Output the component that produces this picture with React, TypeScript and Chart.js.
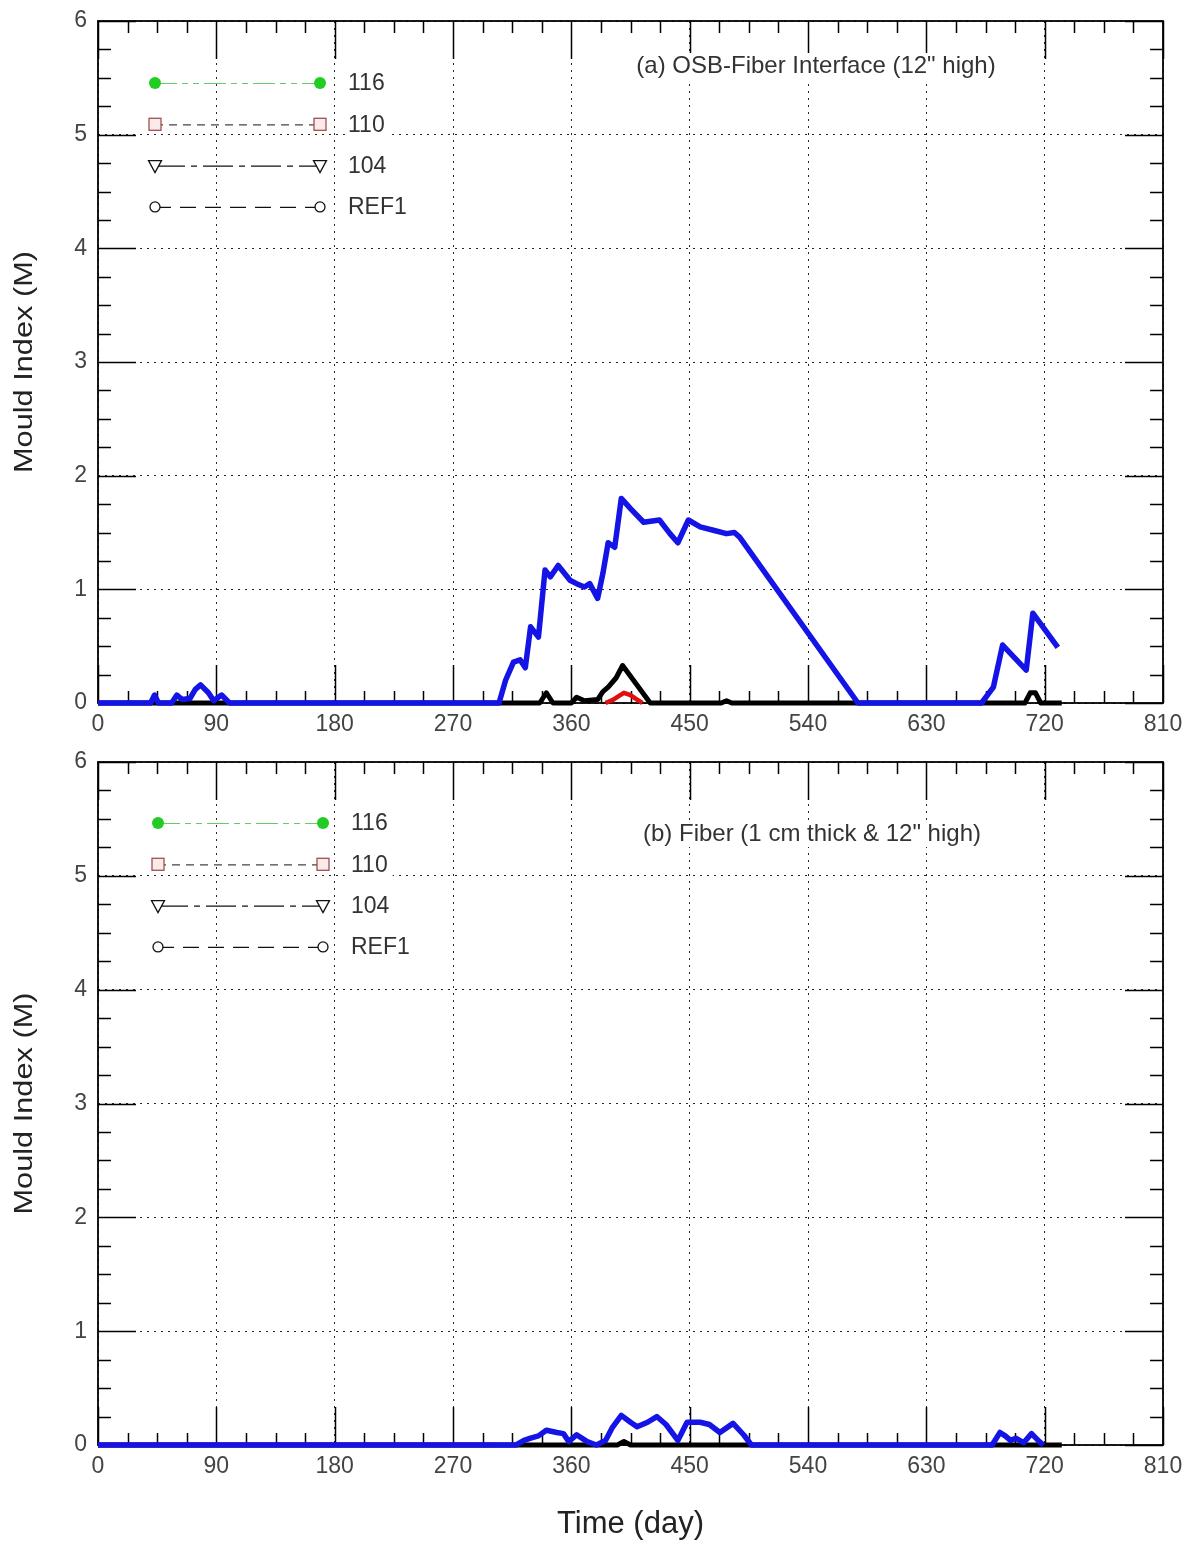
import React, { useEffect, useRef } from "react";
import { Chart, registerables } from "chart.js";

Chart.register(...registerables);

// ---- axis definitions ----
const X_MIN = 0;
const X_MAX = 810;
const X_STEP = 90;
const X_MINOR = 22.5;
const Y_MIN = 0;
const Y_MAX = 6;
const Y_STEP = 1;
const Y_MINOR = 0.25;
const Y_TITLE = "Mould Index (M)";
const X_TITLE = "Time (day)";

// ---- legend ----
const legendLabels = ["116", "110", "104", "REF1"];
const legendLineColors = ["#66cc66", "#444444", "#111111", "#111111"];
const legendMarkerColors = ["#22cc22", "#a05050", "#111111", "#111111"];
const legendMarkers = ["filledCircle", "square", "triangleDown", "circle"];
const legendDashes = [[22, 5, 6, 5, 6, 5], [8, 6], [30, 6, 6, 6], [16, 9]];

// ---- panel (a): OSB-Fiber interface ----
const a116Days = [0, 300];
const a116Values = [0, 0];
const a110Days = [386, 392, 396, 400, 405, 410, 414];
const a110Values = [0, 0.03, 0.06, 0.09, 0.07, 0.03, 0];
const a104Days = [0, 336, 341, 346, 360, 364, 370, 380, 384, 388, 394, 399, 420, 474, 478, 482, 705, 709, 713, 717, 733];
const a104Values = [0, 0, 0.09, 0, 0, 0.05, 0.02, 0.03, 0.1, 0.14, 0.22, 0.33, 0, 0, 0.02, 0, 0, 0.09, 0.09, 0, 0];
const aREF1Days = [0, 40, 43, 46, 56, 60, 64, 70, 74, 78, 84, 88, 94, 100, 305, 310, 316, 321, 325, 329, 335, 340, 344, 350, 359, 364, 370, 374, 380, 384, 388, 393, 398, 405, 415, 427, 435, 441, 449, 458, 468, 478, 484, 488, 578, 672, 681, 688, 706, 711, 730];
const aREF1Values = [0, 0, 0.07, 0, 0, 0.07, 0.03, 0.04, 0.12, 0.16, 0.09, 0.02, 0.07, 0, 0, 0.2, 0.36, 0.38, 0.31, 0.67, 0.58, 1.17, 1.11, 1.21, 1.08, 1.05, 1.02, 1.05, 0.92, 1.14, 1.41, 1.37, 1.8, 1.71, 1.59, 1.61, 1.49, 1.41, 1.61, 1.55, 1.52, 1.49, 1.5, 1.46, 0, 0, 0.14, 0.51, 0.29, 0.79, 0.49];

// ---- panel (b): Fiber ----
const b116Days = [0, 300];
const b116Values = [0, 0];
const b110Days = [0, 300];
const b110Values = [0, 0];
const b104Days = [0, 395, 400, 405, 733];
const b104Values = [0, 0, 0.03, 0, 0];
const bREF1Days = [0, 318, 324, 329, 335, 341, 349, 354, 358, 364, 372, 379, 386, 391, 398, 405, 410, 418, 425, 432, 441, 448, 458, 465, 473, 483, 491, 497, 680, 686, 690, 694, 698, 704, 710, 716, 719];
const bREF1Values = [0, 0, 0.04, 0.06, 0.08, 0.13, 0.11, 0.1, 0.03, 0.09, 0.03, 0, 0.04, 0.15, 0.26, 0.2, 0.16, 0.2, 0.25, 0.18, 0.04, 0.2, 0.2, 0.18, 0.11, 0.19, 0.09, 0, 0, 0.11, 0.08, 0.04, 0.06, 0.02, 0.1, 0.03, 0];

const FONT = "'Liberation Sans', Arial, sans-serif";

function pts(days: number[], values: number[]) {
  return days.map((d, i) => ({ x: d, y: values[i] }));
}

function makeDatasets(d116: number[], v116: number[], d110: number[], v110: number[], d104: number[], v104: number[], dR: number[], vR: number[]) {
  const base = { pointRadius: 0, fill: false, tension: 0, clip: 8, borderJoinStyle: "round" } as any;
  return [
    { ...base, label: "REF1", data: pts(dR, vR), borderColor: "#1414e6", borderWidth: 5.5, order: 0 },
    { ...base, label: "110", data: pts(d110, v110), borderColor: "#e01010", borderWidth: 4.5, order: 1 },
    { ...base, label: "104", data: pts(d104, v104), borderColor: "#000000", borderWidth: 5, order: 2 },
    { ...base, label: "116", data: pts(d116, v116), borderColor: "#22cc22", borderWidth: 4, order: 3 },
  ];
}

const frameTicks = {
  id: "frameTicks",
  beforeDatasetsDraw(chart: any) {
    const { ctx, chartArea, scales } = chart;
    const { left, right, top, bottom } = chartArea;
    const x = scales.x;
    const y = scales.y;
    ctx.save();
    ctx.strokeStyle = "#000";
    ctx.lineWidth = 1.5;
    ctx.setLineDash([]);
    ctx.beginPath();
    for (let v = X_MIN; v <= X_MAX + 1e-6; v += X_MINOR) {
      const px = Math.round(x.getPixelForValue(v)) + 0.5;
      const major = Math.abs(v / X_STEP - Math.round(v / X_STEP)) < 1e-6;
      const len = major ? 38 : 12;
      ctx.moveTo(px, bottom);
      ctx.lineTo(px, bottom - len);
      ctx.moveTo(px, top);
      ctx.lineTo(px, top + len);
    }
    for (let v = Y_MIN; v <= Y_MAX + 1e-6; v += Y_MINOR) {
      const py = Math.round(y.getPixelForValue(v)) + 0.5;
      const major = Math.abs(v / Y_STEP - Math.round(v / Y_STEP)) < 1e-6;
      const len = major ? 38 : 13;
      ctx.moveTo(left, py);
      ctx.lineTo(left + len, py);
      ctx.moveTo(right, py);
      ctx.lineTo(right - len, py);
    }
    ctx.stroke();
    ctx.lineWidth = 1.8;
    ctx.strokeRect(left, top, right - left, bottom - top);
    ctx.restore();
  },
};

function drawMarker(ctx: CanvasRenderingContext2D, kind: string, cx: number, cy: number, color: string) {
  ctx.save();
  ctx.setLineDash([]);
  ctx.lineWidth = 1.3;
  ctx.strokeStyle = color;
  ctx.fillStyle = "#fff";
  if (kind === "filledCircle") {
    ctx.fillStyle = color;
    ctx.beginPath();
    ctx.arc(cx, cy, 6, 0, Math.PI * 2);
    ctx.fill();
  } else if (kind === "square") {
    ctx.fillStyle = "#fbeaea";
    ctx.fillRect(cx - 6, cy - 6, 12, 12);
    ctx.strokeRect(cx - 6, cy - 6, 12, 12);
  } else if (kind === "triangleDown") {
    ctx.beginPath();
    ctx.moveTo(cx - 6.5, cy - 5);
    ctx.lineTo(cx + 6.5, cy - 5);
    ctx.lineTo(cx, cy + 7);
    ctx.closePath();
    ctx.fill();
    ctx.stroke();
  } else {
    ctx.beginPath();
    ctx.arc(cx, cy, 5, 0, Math.PI * 2);
    ctx.fill();
    ctx.stroke();
  }
  ctx.restore();
}

const innerLegend = {
  id: "innerLegend",
  afterDatasetsDraw(chart: any, _args: any, opts: any) {
    const { ctx, chartArea } = chart;
    const { left, top, bottom } = chartArea;
    ctx.save();
    ctx.font = `23px ${FONT}`;
    ctx.textBaseline = "middle";
    legendLabels.forEach((lab, i) => {
      const yy = top + opts.rowTop + i * opts.rowStep;
      const x1 = left + opts.m1;
      const x2 = left + opts.m2;
      ctx.save();
      ctx.strokeStyle = legendLineColors[i];
      ctx.lineWidth = 1.2;
      ctx.setLineDash(legendDashes[i]);
      ctx.beginPath();
      ctx.moveTo(x1, yy + 0.5);
      ctx.lineTo(x2, yy + 0.5);
      ctx.stroke();
      ctx.restore();
      drawMarker(ctx, legendMarkers[i], x1, yy, legendMarkerColors[i]);
      drawMarker(ctx, legendMarkers[i], x2, yy, legendMarkerColors[i]);
      const tx = left + opts.labelX;
      const w = ctx.measureText(lab).width;
      ctx.fillStyle = "#fff";
      ctx.fillRect(tx - 3, yy - 12, w + 8, 24);
      ctx.fillStyle = "#333";
      ctx.textAlign = "left";
      ctx.fillText(lab, tx, yy + 1);
    });
    // annotation
    ctx.font = `24px ${FONT}`;
    ctx.textAlign = "center";
    const aw = ctx.measureText(opts.note).width;
    const ax = left + opts.noteX;
    const ay = top + opts.noteY;
    ctx.fillStyle = "#fff";
    ctx.fillRect(ax - aw / 2 - 4, ay - 13, aw + 8, 26);
    ctx.fillStyle = "#333";
    ctx.fillText(opts.note, ax, ay);
    ctx.restore();

    // y-axis title (stretched along its length like the original)
    ctx.save();
    ctx.font = `26px ${FONT}`;
    ctx.fillStyle = "#222";
    ctx.textAlign = "center";
    ctx.textBaseline = "middle";
    const tw = ctx.measureText(Y_TITLE).width;
    ctx.translate(25, (top + bottom) / 2);
    ctx.rotate(-Math.PI / 2);
    ctx.scale(222 / tw, 1);
    ctx.fillText(Y_TITLE, 0, 0);
    ctx.restore();
  },
};

function makeConfig(datasets: any[], opts: { padTop: number; xHeight: number; showXTitle: boolean; legend: any }) {
  return {
    type: "line",
    data: { datasets },
    plugins: [frameTicks, innerLegend],
    options: {
      animation: false,
      responsive: false,
      devicePixelRatio: 1,
      events: [],
      layout: { padding: { top: opts.padTop, right: 29, left: 0, bottom: 0 } },
      plugins: {
        legend: { display: false },
        tooltip: { enabled: false },
        innerLegend: opts.legend,
      },
      scales: {
        x: {
          type: "linear",
          min: X_MIN,
          max: X_MAX,
          afterBuildTicks(scale: any) {
            const t = [];
            for (let v = X_MIN; v <= X_MAX; v += X_STEP) t.push({ value: v });
            scale.ticks = t;
          },
          afterFit(scale: any) {
            scale.height = opts.xHeight;
            scale.paddingLeft = 0;
            scale.paddingRight = 0;
          },
          ticks: {
            stepSize: X_STEP,
            maxRotation: 0,
            autoSkip: false,
            padding: 8,
            color: "#444",
            font: { family: FONT, size: 23 },
          },
          grid: { color: "rgba(0,0,0,0.85)", lineWidth: 1, drawTicks: false },
          border: { display: false, dash: [2, 5] },
          title: {
            display: opts.showXTitle,
            text: X_TITLE,
            color: "#222",
            font: { family: FONT, size: 31, lineHeight: 1 },
            padding: { top: 0, bottom: 2 },
          },
        },
        y: {
          type: "linear",
          min: Y_MIN,
          max: Y_MAX,
          afterFit(scale: any) {
            scale.width = 98;
            scale.paddingTop = 0;
            scale.paddingBottom = 0;
          },
          ticks: {
            stepSize: Y_STEP,
            padding: 11,
            color: "#444",
            font: { family: FONT, size: 23 },
          },
          grid: { color: "rgba(0,0,0,0.85)", lineWidth: 1, drawTicks: false },
          border: { display: false, dash: [2, 5] },
          title: { display: false },
        },
      },
    },
  } as any;
}

function Panel(props: { config: any; width: number; height: number; top: number }) {
  const ref = useRef<HTMLCanvasElement | null>(null);
  useEffect(() => {
    if (!ref.current) return;
    const chart = new Chart(ref.current, props.config);
    return () => chart.destroy();
  }, []);
  return (
    <canvas
      ref={ref}
      width={props.width}
      height={props.height}
      style={{ position: "absolute", left: 0, top: props.top, width: props.width, height: props.height }}
    />
  );
}

export default function App() {
  useEffect(() => {
    document.body.style.margin = "0";
    document.body.style.background = "#fff";
  }, []);
  const topConfig = makeConfig(
    makeDatasets(a116Days, a116Values, a110Days, a110Values, a104Days, a104Values, aREF1Days, aREF1Values),
    {
      padTop: 21,
      xHeight: 42,
      showXTitle: false,
      legend: { rowTop: 62, rowStep: 41.3, m1: 57, m2: 222, labelX: 250, note: "(a) OSB-Fiber Interface (12\" high)", noteX: 718, noteY: 45 },
    }
  );
  const bottomConfig = makeConfig(
    makeDatasets(b116Days, b116Values, b110Days, b110Values, b104Days, b104Values, bREF1Days, bREF1Values),
    {
      padTop: 17,
      xHeight: 97,
      showXTitle: true,
      legend: { rowTop: 61, rowStep: 41.3, m1: 60, m2: 225, labelX: 253, note: "(b) Fiber (1 cm thick & 12\" high)", noteX: 714, noteY: 72 },
    }
  );
  return (
    <div style={{ position: "absolute", left: 0, top: 0, width: 1192, height: 1542, background: "#fff" }}>
      <Panel config={topConfig} width={1192} height={745} top={0} />
      <Panel config={bottomConfig} width={1192} height={797} top={745} />
    </div>
  );
}
